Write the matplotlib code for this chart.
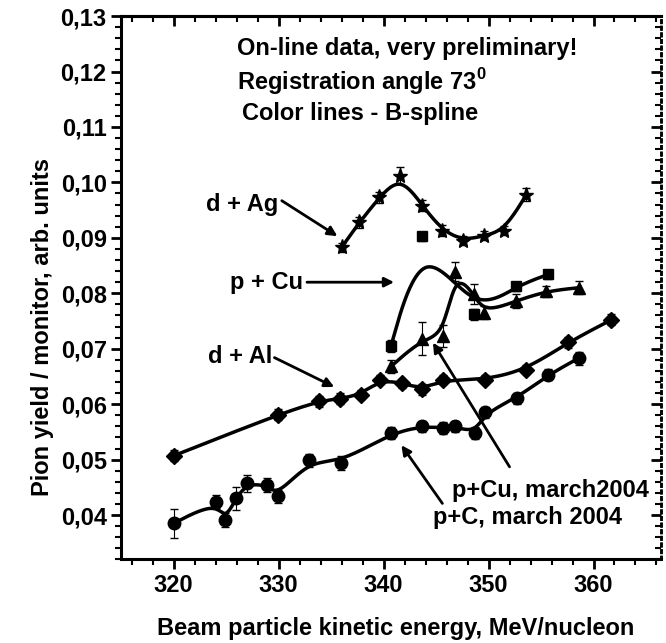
import numpy as np
import matplotlib
matplotlib.use("Agg")
import matplotlib.pyplot as plt
from matplotlib.ticker import MultipleLocator, FuncFormatter, NullFormatter

plt.rcParams['font.family'] = ['Liberation Sans', 'DejaVu Sans']
plt.rcParams['font.weight'] = 'bold'
plt.rcParams['mathtext.fontset'] = 'custom'
plt.rcParams['mathtext.rm'] = 'Liberation Sans'
plt.rcParams['mathtext.bf'] = 'Liberation Sans:bold'

FS = 17

# values
# d + Ag (stars)
ag_x = [336.0, 337.7, 339.6, 341.6, 343.7, 345.6, 347.6, 349.6, 351.5, 353.6]
ag_y = [0.0883, 0.0928, 0.0973, 0.1012, 0.0958, 0.0913, 0.0895, 0.0904, 0.0913, 0.0978]
ag_err = [0.0008, 0.0010, 0.0010, 0.0015, 0.0010, 0.0010, 0.0008, 0.0008, 0.0008, 0.0012]

# p + Cu (squares)
cu_x = [340.7, 343.7, 348.6, 352.6, 355.7]
cu_y = [0.0705, 0.0903, 0.0762, 0.0813, 0.0834]
cu_err = [0.0010, 0.0008, 0.0010, 0.0008, 0.0008]

# p + Cu, march 2004 (triangles)
cum_x = [340.7, 343.7, 345.7, 346.8, 348.6, 349.6, 352.6, 355.5, 358.6]
cum_y = [0.0668, 0.0718, 0.0723, 0.0839, 0.0798, 0.0765, 0.0786, 0.0804, 0.0810]
cum_err = [0.0012, 0.0030, 0.0020, 0.0017, 0.0018, 0.0012, 0.0012, 0.0010, 0.0012]

# d + Al (diamonds)
al_x = [320.0, 329.9, 333.8, 335.8, 337.8, 339.7, 341.8, 343.7, 345.7, 349.7, 353.6, 357.6, 361.7]
al_y = [0.0507, 0.0581, 0.0605, 0.0610, 0.0617, 0.0644, 0.0638, 0.0627, 0.0644, 0.0644, 0.0662, 0.0712, 0.0752]
al_err = [0.0010, 0.0010, 0.0010, 0.0010, 0.0008, 0.0008, 0.0008, 0.0010, 0.0008, 0.0008, 0.0008, 0.0010, 0.0010]

# p + C, march 2004 (circles)
c_x = [320.0, 324.0, 324.9, 325.9, 327.0, 328.9, 329.9, 332.9, 335.9, 340.7,
       343.7, 345.7, 346.8, 348.7, 349.7, 352.7, 355.7, 358.6]
c_y = [0.0385, 0.0424, 0.0391, 0.0430, 0.0457, 0.0454, 0.0434, 0.0499, 0.0494, 0.0548,
       0.0560, 0.0557, 0.0560, 0.0548, 0.0585, 0.0611, 0.0653, 0.0683]
c_err = [0.0026, 0.0012, 0.0012, 0.0020, 0.0015, 0.0012, 0.0012, 0.0012, 0.0012, 0.0010,
         0.0010, 0.0010, 0.0010, 0.0010, 0.0010, 0.0010, 0.0010, 0.0012]


def bspline(xs, ys, n=40):
    # clamped uniform cubic B-spline, data points act as control points
    p = np.column_stack([xs, ys])
    p = np.vstack([p[:1], p[:1], p, p[-1:], p[-1:]])
    t = np.linspace(0, 1, n)[:, None]
    b0 = (1 - t) ** 3 / 6
    b1 = (3 * t**3 - 6 * t**2 + 4) / 6
    b2 = (-3 * t**3 + 3 * t**2 + 3 * t + 1) / 6
    b3 = t**3 / 6
    segs = [b0 * p[i] + b1 * p[i + 1] + b2 * p[i + 2] + b3 * p[i + 3] for i in range(len(p) - 3)]
    c = np.vstack(segs)
    return c[:, 0], c[:, 1]


fig = plt.figure(figsize=(6.66, 6.43), dpi=100)
ax = fig.add_axes([0.182, 0.130, 0.810, 0.845])

series = [
    (ag_x, ag_y, ag_err, '*', 11),
    (cu_x, cu_y, cu_err, 's', 7),
    (cum_x, cum_y, cum_err, '^', 9),
    (al_x, al_y, al_err, 'D', 8),
    (c_x, c_y, c_err, 'o', 9),
]
for xs, ys, err, mk, ms in series:
    sx, sy = bspline(xs, ys)
    ax.plot(sx, sy, color='black', lw=2.5, solid_capstyle='round')
    ax.errorbar(xs, ys, yerr=err, fmt=mk, color='black', ms=ms,
                ecolor='black', elinewidth=0.8, capsize=3, capthick=1)

ax.set_xlim(315, 366.4)
ax.set_ylim(0.032, 0.13)
ax.xaxis.set_major_locator(MultipleLocator(10))
ax.xaxis.set_minor_locator(MultipleLocator(2))
ax.yaxis.set_major_locator(MultipleLocator(0.01))
ax.yaxis.set_minor_locator(MultipleLocator(0.002))
ax.yaxis.set_major_formatter(FuncFormatter(lambda v, p: f"{v:.2f}".replace('.', ',')))
ax.tick_params(which='major', direction='out', length=7, width=2, labelsize=FS)
ax.tick_params(which='minor', direction='out', length=4, width=1.5)
for s in ['left', 'bottom', 'top']:
    ax.spines[s].set_linewidth(2.2)
ax.spines['right'].set_linestyle(':')
ax.spines['right'].set_linewidth(1.8)

top = ax.secondary_xaxis('top')
top.xaxis.set_major_locator(MultipleLocator(10))
top.xaxis.set_minor_locator(MultipleLocator(2))
top.xaxis.set_major_formatter(NullFormatter())
top.tick_params(which='major', direction='in', length=7, width=2)
top.tick_params(which='minor', direction='in', length=4, width=1.5)
top.spines['top'].set_linewidth(2.2)

right = ax.secondary_yaxis('right')
right.yaxis.set_major_locator(MultipleLocator(0.01))
right.yaxis.set_minor_locator(MultipleLocator(0.002))
right.yaxis.set_major_formatter(NullFormatter())
right.tick_params(which='major', direction='in', length=7, width=2)
right.tick_params(which='minor', direction='in', length=4, width=1.5)
right.spines['right'].set_linestyle(':')
right.spines['right'].set_linewidth(1.8)

# header text inside the frame
ax.text(326.05, 0.1241, "On-line data, very preliminary!", fontsize=FS, va='center')
ax.text(326.05, 0.1182, r"Registration angle 73$^{\mathbf{0}}$", fontsize=FS, va='center')
ax.text(326.5, 0.1125, "Color lines - B-spline", fontsize=FS, va='center')

# labels with arrows
arrow = dict(arrowstyle='-|>', color='black', lw=2, mutation_scale=14, shrinkA=0, shrinkB=0)
ax.text(326.5, 0.0961, "d + Ag", fontsize=FS, ha='center', va='center')
ax.annotate('', xy=(335.6, 0.0903), xytext=(330.3, 0.0967), arrowprops=arrow)
ax.text(328.8, 0.0820, "p + Cu", fontsize=FS, ha='center', va='center')
ax.annotate('', xy=(341.0, 0.0820), xytext=(332.7, 0.0820), arrowprops=arrow)
ax.text(326.3, 0.0686, "d + Al", fontsize=FS, ha='center', va='center')
ax.annotate('', xy=(335.3, 0.0631), xytext=(329.6, 0.0684), arrowprops=arrow)
ax.text(346.5, 0.0445, "p+Cu, march2004", fontsize=FS, va='center')
ax.annotate('', xy=(344.7, 0.0711), xytext=(352.0, 0.0487), arrowprops=arrow)
ax.text(344.7, 0.0396, "p+C, march 2004", fontsize=FS, va='center')
ax.annotate('', xy=(341.7, 0.0526), xytext=(345.6, 0.0421), arrowprops=arrow)

fig.text(396 / 666, 1 - 628 / 643, "Beam particle kinetic energy, MeV/nucleon",
         fontsize=FS, ha='center', va='center')
fig.text(43 / 666, 1 - 327 / 643, "Pion yield / monitor, arb. units",
         fontsize=FS, ha='center', va='center', rotation=90)

fig.savefig("out.png", dpi=100)
